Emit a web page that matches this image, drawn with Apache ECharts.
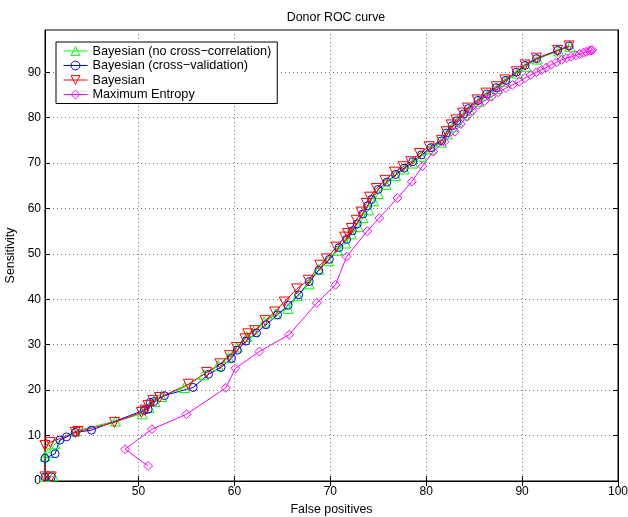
<!DOCTYPE html>
<html>
<head>
<meta charset="utf-8">
<title>Donor ROC curve</title>
<script src="https://cdn.jsdelivr.net/npm/echarts@6/dist/echarts.min.js"></script>
<style>
  html, body { margin: 0; padding: 0; background: #fff; }
  #chart { width: 628px; height: 517px; }
</style>
</head>
<body>
<div id="chart"></div>
<script>
// Axis ranges and tick labels
const xRange = [40.25, 100];
const yRange = [0, 99.3];
const xTicks = [50, 60, 70, 80, 90, 100];
const yTicks = [0, 10, 20, 30, 40, 50, 60, 70, 80, 90];

const seriesNames = [
  'Bayesian (no cross\u2212correlation)',
  'Bayesian (cross\u2212validation)',
  'Bayesian',
  'Maximum Entropy'
];

// [false positives, sensitivity] pairs for each classifier
const bayesNoCorr = [
  [41.1,1.1],[40.25,1.0],[40.25,5.5],[40.6,6.2],[41.3,8.2],[43.4,11.0],[47.6,13.2],
  [50.4,14.8],[51.1,16.2],[51.7,17.5],[52.4,18.6],[54.8,20.6],[56.8,23.4],[58.3,25.4],
  [59.4,27.2],[60.3,29.5],[61.3,31.8],[62.0,32.9],[63.1,35.0],[64.3,36.8],[65.6,38.0],
  [66.6,40.8],[67.8,43.4],[68.8,46.6],[69.8,48.5],[70.8,50.8],[71.6,52.4],[72.2,54.4],
  [72.9,56.0],[73.4,58.0],[74.0,59.7],[74.5,61.7],[75.0,63.3],[75.8,65.3],[76.8,67.3],
  [77.7,68.7],[78.6,70.0],[79.5,71.5],[80.5,73.1],[81.6,74.6],[82.2,76.4],[82.8,78.0],
  [83.3,79.2],[84.0,80.6],[84.5,81.7],[85.5,83.6],[86.4,85.0],[87.4,86.4],[88.3,88.0],
  [89.5,89.8],[90.4,91.3],[91.6,92.9],[93.8,94.7],[95.0,95.7]
];

const bayesCrossVal = [
  [40.9,0.9],[40.25,0.9],[40.25,5.0],[41.3,6.0],[41.8,9.0],[42.5,9.7],[43.4,10.7],
  [45.1,11.2],[50.6,15.6],[51.0,15.8],[51.2,17.3],[51.6,17.5],[52.7,18.8],[55.7,20.6],
  [57.3,23.5],[58.6,25.0],[59.7,27.0],[60.3,28.8],[61.2,30.8],[62.3,32.6],[63.3,34.4],
  [64.5,36.6],[65.6,38.7],[66.7,41.0],[67.8,43.9],[68.8,46.4],[69.9,48.8],[70.9,51.4],
  [71.7,53.2],[72.3,55.1],[72.8,56.6],[73.4,58.8],[73.9,60.6],[74.3,62.0],[75.0,64.2],
  [75.9,65.8],[76.8,67.5],[77.7,68.9],[78.6,70.3],[79.5,71.8],[80.5,73.4],[81.6,74.9],
  [82.1,76.6],[82.7,78.2],[83.2,79.3],[83.9,80.8],[84.4,82.0],[85.4,83.8],[86.3,85.2],
  [87.3,86.6],[88.3,88.2],[89.4,90.0],[90.3,91.5],[91.5,93.0],[93.7,94.8],[94.9,95.8]
];

const bayes = [
  [40.9,0.9],[40.25,0.9],[40.25,7.8],[40.8,8.5],[43.4,10.7],[43.7,10.9],[47.5,12.9],
  [50.3,15.1],[50.7,15.6],[51.0,16.6],[51.5,17.7],[52.2,18.4],[55.2,21.3],[57.1,23.9],
  [58.5,25.8],[59.5,27.6],[60.2,29.4],[61.1,31.3],[61.4,32.4],[62.1,33.1],[63.2,35.3],
  [64.2,37.2],[65.2,39.4],[66.5,42.3],[67.7,44.2],[68.9,47.5],[69.6,48.9],[70.6,51.5],
  [71.5,53.7],[71.8,54.5],[72.2,55.6],[72.7,57.4],[73.2,59.2],[73.75,61.1],[74.1,62.5],
  [74.8,64.4],[75.7,66.2],[76.7,68.0],[77.6,69.2],[78.4,70.3],[79.3,72.1],[80.3,73.6],
  [81.6,75.0],[82.1,76.9],[82.6,78.4],[83.1,79.5],[83.8,81.0],[84.3,82.1],[85.3,83.9],
  [86.25,85.4],[87.3,86.8],[88.2,88.3],[89.4,90.1],[90.3,91.6],[91.5,93.1],[93.7,94.8],
  [94.9,95.8]
];

const maxEntropy = [
  [51.0,3.3],[48.6,7.0],[51.4,11.4],[55.0,14.7],[59.1,20.5],[60.1,24.8],[62.6,28.5],
  [65.7,32.2],[68.6,39.2],[70.55,43.2],[71.7,49.4],[73.85,55.0],[75.1,57.9],[77.0,62.3],
  [78.5,65.9],[79.6,69.3],[80.7,72.5],[81.9,74.7],[83.0,76.9],[83.6,78.6],[84.2,80.2],
  [84.8,81.5],[85.4,82.8],[86.1,83.7],[86.8,84.6],[87.5,85.6],[88.3,86.5],[89.0,87.2],
  [89.7,87.9],[90.3,88.7],[90.9,89.4],[91.5,90.0],[92.0,90.5],[92.5,91.0],[93.0,91.6],
  [93.6,92.2],[94.1,92.7],[94.6,93.1],[95.1,93.4],[95.6,93.7],[96.0,94.0],[96.4,94.3],
  [96.7,94.5],[97.0,94.7],[97.2,94.8],[97.3,94.9]
];

const FONT = '"Liberation Sans", Arial, Helvetica, sans-serif';

function lineSeries(name, data, color, symbol, size, rotate) {
  return {
    name: name,
    type: 'line',
    data: data,
    xAxisIndex: 0,
    yAxisIndex: 0,
    symbol: symbol,
    symbolSize: size,
    symbolRotate: rotate || 0,
    showAllSymbol: true,
    lineStyle: { color: color, width: 1 },
    itemStyle: { color: 'transparent', borderColor: color, borderWidth: 1 },
    emphasis: { disabled: true },
    silent: true,
    clip: true
  };
}

const gridLine = { show: true, lineStyle: { color: '#777', width: 1, type: [1, 3] } };

const chart = echarts.init(document.getElementById('chart'), null, { renderer: 'canvas' });
chart.setOption({
  animation: false,
  backgroundColor: '#fff',
  title: {
    text: 'Donor ROC curve',
    left: 331, top: 7,
    textAlign: 'center',
    textStyle: { fontFamily: FONT, fontSize: 12.4, fontWeight: 'normal', color: '#000' }
  },
  grid: {
    left: 45, right: 10, top: 30, bottom: 36,
    outerBoundsMode: 'none',
    show: true, borderColor: '#000', borderWidth: 1, backgroundColor: '#fff'
  },
  legend: {
    orient: 'vertical',
    left: 56, top: 42,
    padding: [2, 6, 2, 7],
    itemWidth: 24, itemHeight: 11,
    itemGap: 0.5,
    backgroundColor: '#fff',
    borderColor: '#000', borderWidth: 1,
    selectedMode: false,
    lineStyle: { width: 1 },
    itemStyle: { borderWidth: 1 },
    textStyle: { fontFamily: FONT, fontSize: 12.7, color: '#000', lineHeight: 14 },
    data: seriesNames
  },
  xAxis: [{
    type: 'value', position: 'bottom',
    min: xRange[0], max: xRange[1],
    name: 'False positives', nameLocation: 'middle', nameGap: 23,
    nameTextStyle: { fontFamily: FONT, fontSize: 12.4, color: '#000' },
    axisLine: { show: true, lineStyle: { color: '#000', width: 1 } },
    axisTick: { show: true, inside: true, length: 5, lineStyle: { color: '#000' }, customValues: xTicks },
    axisLabel: { show: true, margin: 5, fontFamily: FONT, fontSize: 12, color: '#000', customValues: xTicks },
    splitLine: gridLine
  }, {
    type: 'value', position: 'top',
    min: xRange[0], max: xRange[1],
    axisLine: { show: true, lineStyle: { color: '#000', width: 1 } },
    axisTick: { show: true, inside: true, length: 5, lineStyle: { color: '#000' }, customValues: xTicks },
    axisLabel: { show: false },
    splitLine: { show: false }
  }],
  yAxis: [{
    type: 'value', position: 'left',
    min: yRange[0], max: yRange[1], interval: 10,
    name: 'Sensitivity', nameLocation: 'middle', nameGap: 26,
    nameTextStyle: { fontFamily: FONT, fontSize: 12.4, color: '#000' },
    axisLine: { show: true, lineStyle: { color: '#000', width: 1 } },
    axisTick: { show: true, inside: true, length: 5, lineStyle: { color: '#000' }, customValues: yTicks },
    axisLabel: { show: true, margin: 4, fontFamily: FONT, fontSize: 12, color: '#000', customValues: yTicks },
    splitLine: gridLine
  }, {
    type: 'value', position: 'right',
    min: yRange[0], max: yRange[1], interval: 10,
    axisLine: { show: true, lineStyle: { color: '#000', width: 1 } },
    axisTick: { show: true, inside: true, length: 5, lineStyle: { color: '#000' }, customValues: yTicks },
    axisLabel: { show: false },
    splitLine: { show: false }
  }],
  series: [
    lineSeries(seriesNames[0], bayesNoCorr, '#00ff00', 'triangle', 10, 0),
    lineSeries(seriesNames[1], bayesCrossVal, '#0000ff', 'circle', 8, 0),
    lineSeries(seriesNames[2], bayes, '#ff0000', 'triangle', 10, 180),
    lineSeries(seriesNames[3], maxEntropy, '#ff00ff', 'diamond', 9, 0)
  ]
});
</script>
</body>
</html>
